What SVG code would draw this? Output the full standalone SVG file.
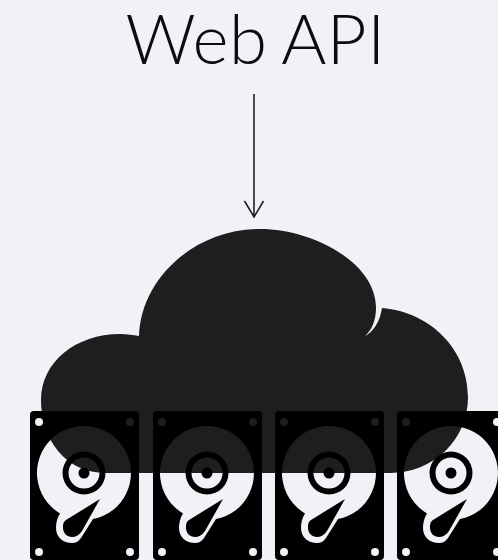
<svg xmlns="http://www.w3.org/2000/svg" width="498" height="560" viewBox="0 0 498 560">
<style>
.title{font-family:"Lato","Liberation Sans",sans-serif;font-weight:300;font-size:69px;letter-spacing:0.4px;word-spacing:-3px;fill:#0c0c0c;text-anchor:middle}
.conn{fill:none;stroke:#222;stroke-width:1.6}
</style>
<defs>
<path id="hdd" fill="#000" fill-rule="evenodd" d="M4 0H105a4 4 0 0 1 4 4V145a4 4 0 0 1 -4 4H4a4 4 0 0 1 -4 -4V4a4 4 0 0 1 4 -4Z
M5 11a4 4 0 1 0 8 0a4 4 0 1 0 -8 0Z M96 11a4 4 0 1 0 8 0a4 4 0 1 0 -8 0Z M5 141a4 4 0 1 0 8 0a4 4 0 1 0 -8 0Z M96 141a4 4 0 1 0 8 0a4 4 0 1 0 -8 0Z
M63 108.100A47 47 0 1 0 30 102.400C27 107 26 112 26 117C26 126 33 132 42 132C46 132 49 130 51 127Z
M70 88L36 109C33 111 33 114 33 117C33 122 37 126 42 126C46 126 49 124 52 120Z
M32.500 62a21.500 21.500 0 1 0 43 0a21.500 21.500 0 1 0 -43 0Z
M38.500 62a15.500 15.500 0 1 0 31 0a15.500 15.500 0 1 0 -31 0Z
M48.500 62a5.500 5.500 0 1 0 11 0a5.500 5.500 0 1 0 -11 0Z"/>
</defs>
<rect width="498" height="560" fill="#f0f2f7"/>
<g id="label"><text class="title" x="255.500" y="64">Web API</text></g>
<g id="cloud">
<path fill="#1e1e1e" d="M106 473C66 473 41 440 41 400C41 362 76 334 120 334C127 334 133 335 139 336C141 278 195 229 260 229C312 229 376 262 376 308C376 320 372 330 365 336C373 332 380 322 382 308C431 312 468 350 468 397C468 440 433 473 390 473Z"/>
</g>
<g id="connectors">
<path class="conn" d="M254 94V217M244.500 201L254 217L263.500 201"/>
</g>
<g id="drive1"><use href="#hdd" x="30" y="411"/></g>
<g id="drive2"><use href="#hdd" x="153" y="411"/></g>
<g id="drive3"><use href="#hdd" x="275" y="411"/></g>
<g id="drive4"><use href="#hdd" x="397" y="411"/></g>
</svg>
